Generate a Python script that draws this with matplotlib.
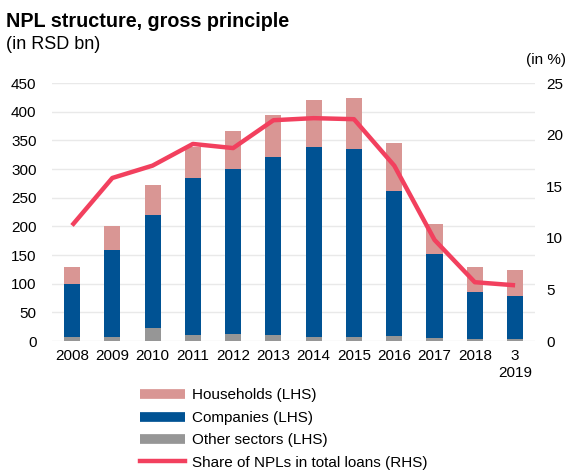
import numpy as np
from matplotlib import pyplot as plt
from matplotlib.lines import Line2D

plt.rcParams["font.family"] = ["Liberation Sans", "DejaVu Sans"]

years = ["2008", "2009", "2010", "2011", "2012", "2013", "2014", "2015",
         "2016", "2017", "2018", "3\n2019"]
other = [7, 7, 23, 10, 12, 10, 7, 7, 8, 5, 3, 3]
companies = [93, 152, 197, 275, 288, 311, 331, 328, 254, 147, 82, 76]
households = [30, 42, 53, 53, 66, 74, 83, 89, 83, 52, 45, 45]
npl_share = [11.2, 15.8, 17.0, 19.1, 18.7, 21.4, 21.6, 21.5, 17.0, 9.8, 5.7, 5.4]

c_hh = "#D99694"
c_comp = "#005293"
c_other = "#969696"
c_line = "#F2405E"

fig = plt.figure(figsize=(5.7, 4.72), dpi=100)
ax = fig.add_axes([0.091, 0.2775, 0.848, 0.5465])
ax2 = ax.twinx()

x = np.arange(len(years))
other = np.array(other)
companies = np.array(companies)
households = np.array(households)

w = 0.4
ax.bar(x, other, w, color=c_other, zorder=2)
ax.bar(x, companies, w, bottom=other, color=c_comp, zorder=2)
ax.bar(x, households, w, bottom=other + companies, color=c_hh, zorder=2)
ax2.plot(x, npl_share, color=c_line, lw=3.2, solid_capstyle="butt", zorder=3)

ax.set_ylim(0, 450)
ax.set_yticks(np.arange(0, 451, 50))
ax2.set_ylim(0, 25)
ax2.set_yticks(np.arange(0, 26, 5))
ax.set_xlim(-0.5, len(years) - 0.5)
ax.set_xticks(x)
ax.set_xticklabels(years, fontsize=11)
ax.grid(axis="y", color="#E9E9E9", lw=1, zorder=0)
ax.set_axisbelow(True)

for a in (ax, ax2):
    for s in a.spines.values():
        s.set_visible(False)
    a.tick_params(length=0, labelsize=11)
ax.tick_params(axis="y", pad=11)
ax2.tick_params(axis="y", pad=8)
ax.tick_params(axis="x", pad=6)

fig.text(0.01, 0.955, "NPL structure, gross principle", fontsize=14.2,
         fontweight="bold", va="center")
fig.text(0.01, 0.905, "(in RSD bn)", fontsize=13, va="center")
fig.text(0.993, 0.873, "(in %)", fontsize=11, va="center", ha="right")

handles = [
    Line2D([], [], color=c_hh, lw=7, solid_capstyle="butt"),
    Line2D([], [], color=c_comp, lw=7, solid_capstyle="butt"),
    Line2D([], [], color=c_other, lw=7, solid_capstyle="butt"),
    Line2D([], [], color=c_line, lw=3.2),
]
labels = ["Households (LHS)", "Companies (LHS)", "Other sectors (LHS)",
          "Share of NPLs in total loans (RHS)"]
fig.legend(handles, labels, loc="upper left", bbox_to_anchor=(0.245, 0.177),
           frameon=False, fontsize=11, handlelength=3.0, handletextpad=0.4,
           labelspacing=0.55, borderaxespad=0, borderpad=0)

fig.savefig("out.png", dpi=100)
